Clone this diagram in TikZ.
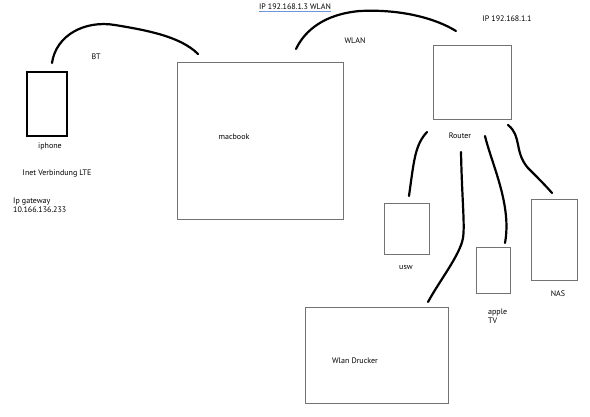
\documentclass[tikz,border=0pt]{standalone}
\usepackage{fontspec}
\setmainfont{PT Sans}
\definecolor{linkblue}{RGB}{110,150,225}
\begin{document}
\begin{tikzpicture}[x=1pt,y=-1pt,
  box/.style={draw=black!55,line width=0.9pt,inner sep=0pt},
  phonebox/.style={draw=black,line width=1.3pt,inner sep=0pt},
  lbl/.style={font=\fontsize{8}{9.5}\selectfont,inner sep=0pt,text=black},
  wire/.style={line width=2.2pt,line cap=round}]
\useasboundingbox (0,0) rectangle (590,417);
% boxes
\node[phonebox,minimum width=40pt,minimum height=64pt] (iphone) at (47,104) {};
\node[box,minimum width=166pt,minimum height=157pt] (macbook) at (260,140.5) {};
\node[box,minimum width=78pt,minimum height=74pt] (router) at (472,82) {};
\node[box,minimum width=45pt,minimum height=51pt] (usw) at (406.5,228.5) {};
\node[box,minimum width=34pt,minimum height=46pt] (atv) at (493,270) {};
\node[box,minimum width=46pt,minimum height=81pt] (nas) at (554,239.5) {};
\node[box,minimum width=143pt,minimum height=96pt] (drucker) at (376.5,355) {};
% labels
\node[lbl] (lipwlan) at (295,7) {IP 192.168.1.3 WLAN};
\draw[linkblue,line width=0.8pt] (lipwlan.south west) ++(0,1.8) coordinate (ulA) -- (lipwlan.south east |- ulA);
\node[lbl] (lbt) at (96,57) {BT};
\node[lbl] (liphone) at (50,146) {iphone};
\node[lbl] (lmac) at (234,137) {macbook};
\node[lbl] (linet) at (57,174) {Inet Verbindung LTE};
\node[lbl,anchor=west,align=left] (lgw) at (13,205) {Ip gateway\\10.166.136.233};
\node[lbl] (lwlan) at (355,41) {WLAN};
\node[lbl] (lrip) at (507,19) {IP 192.168.1.1};
\node[lbl] (lrouter) at (460,136) {Router};
\node[lbl] (lusw) at (406,268) {usw};
\node[lbl,anchor=west,align=left] (latv) at (488,316) {apple\\TV};
\node[lbl] (lnas) at (558,294) {NAS};
\node[lbl] (ldr) at (355,361) {Wlan Drucker};
% connector ends
\coordinate (bt1) at (52,63);
\coordinate (bt2) at (198,54);
\coordinate (w1) at (296,49);
\coordinate (w2) at (456,31);
\coordinate (r1) at (427,132);
\coordinate (u1) at (409,196);
\coordinate (r2) at (461,152);
\coordinate (d1) at (428,302);
\coordinate (r3) at (485,136);
\coordinate (a1) at (505,243);
\coordinate (r4) at (508,125);
\coordinate (n1) at (552,193);
% connectors
\draw[wire] (bt1) .. controls (56,35) and (85,20) .. (115,25) .. controls (145,30) and (180,36) .. (bt2);
\draw[wire] (w1) .. controls (305,30) and (325,14) .. (360,11) .. controls (400,9) and (435,18) .. (w2);
\draw[wire] (r1) .. controls (415,145) and (414,160) .. (u1);
\draw[wire] (r2) .. controls (462,200) and (465,225) .. (463,238) .. controls (460,255) and (440,280) .. (d1);
\draw[wire] (r3) .. controls (492,165) and (512,205) .. (a1);
\draw[wire] (r4) .. controls (522,136) and (514,152) .. (528,168) .. controls (538,178) and (546,186) .. (n1);
\end{tikzpicture}
\end{document}
